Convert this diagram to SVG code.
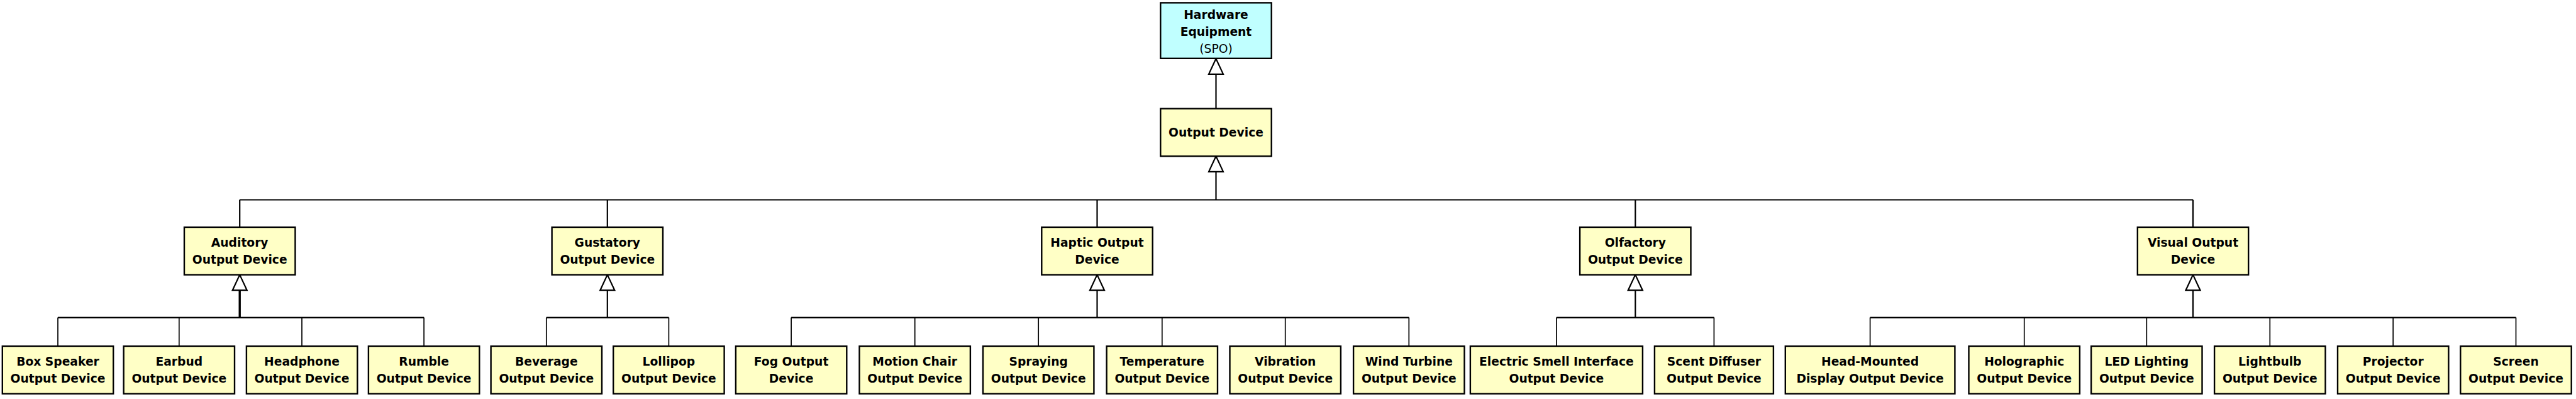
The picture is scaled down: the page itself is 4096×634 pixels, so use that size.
<svg xmlns="http://www.w3.org/2000/svg" xmlns:xlink="http://www.w3.org/1999/xlink" width="4096" height="634" viewBox="0 0 4096 634">
<style>
.box{fill:#FFFFC6;stroke:#000;stroke-width:2.4}
.spo{fill:#C0FFFF;stroke:#000;stroke-width:2.4}
.t{font-family:"DejaVu Sans",Verdana,sans-serif;font-weight:bold;font-size:18.7px;fill:#000;text-anchor:middle}
.n{font-weight:normal}
.ln{fill:none;stroke:#000;stroke-width:2.2}
.dr{fill:none;stroke:#000;stroke-width:1.7}
.tri{fill:#fff;stroke:#000;stroke-width:2.2;stroke-linejoin:miter}
</style>
<defs>
<path id="tri" class="tri" d="M0,0 L11.5,24.6 L-11.5,24.6 Z"/>
</defs>
<rect width="4096" height="634" fill="#fff"/>
<g id="connectors">
<line class="ln" x1="1933.5" y1="118.6" x2="1933.5" y2="172.6"/>
<use xlink:href="#tri" x="1933.5" y="93.2"/>
<line class="ln" x1="1933.5" y1="272.8" x2="1933.5" y2="317.5"/>
<line class="ln" x1="381.2" y1="317.5" x2="3487" y2="317.5"/>
<path class="ln" d="M381.2,317.5V361M965.8,317.5V361M1744.5,317.5V361M2600.3,317.5V361M3487,317.5V361"/>
<use xlink:href="#tri" x="1933.5" y="248.2"/>
<line class="ln" x1="381.2" y1="461.2" x2="381.2" y2="504.6" style="stroke-width:3.4"/>
<line class="ln" x1="965.8" y1="461.2" x2="965.8" y2="504.6"/>
<line class="ln" x1="1744.5" y1="461.2" x2="1744.5" y2="504.6"/>
<line class="ln" x1="2600.3" y1="461.2" x2="2600.3" y2="504.6"/>
<line class="ln" x1="3487" y1="461.2" x2="3487" y2="504.6"/>
<use xlink:href="#tri" x="381.2" y="436.6"/>
<use xlink:href="#tri" x="965.8" y="436.6"/>
<use xlink:href="#tri" x="1744.5" y="436.6"/>
<use xlink:href="#tri" x="2600.3" y="436.6"/>
<use xlink:href="#tri" x="3487" y="436.6"/>
<line class="ln" x1="92" y1="504.6" x2="674.1" y2="504.6"/>
<line class="ln" x1="868.8" y1="504.6" x2="1063.4" y2="504.6"/>
<line class="ln" x1="1258.1" y1="504.6" x2="2240.3" y2="504.6"/>
<line class="ln" x1="2474.9" y1="504.6" x2="2725.4" y2="504.6"/>
<line class="ln" x1="2973.6" y1="504.6" x2="4000.5" y2="504.6"/>
<path class="dr" d="M92,504.6V550M284.8,504.6V550M480,504.6V550M674.1,504.6V550M868.8,504.6V550M1063.4,504.6V550M1258.1,504.6V550M1454.7,504.6V550M1651.2,504.6V550M1847.8,504.6V550M2043.7,504.6V550M2240.3,504.6V550M2474.9,504.6V550M2725.4,504.6V550M2973.6,504.6V550M3218.7,504.6V550M3413.3,504.6V550M3609.3,504.6V550M3805.2,504.6V550M4000.5,504.6V550"/>
</g>
<g id="hardware-equipment"><rect class="spo" x="1845.3" y="4.4" width="176.4" height="88.4"/>
<text class="t" x="1933.5" y="29.8">Hardware</text><text class="t" x="1933.5" y="56.8">Equipment</text><text class="t n" x="1933.5" y="83.6">(SPO)</text></g>
<g id="output-device"><rect class="box" x="1845.3" y="172.6" width="176.4" height="75.6"/>
<text class="t" x="1933.5" y="217.2">Output Device</text></g>
<g id="auditory"><rect class="box" x="293" y="361" width="176.4" height="75.6"/>
<text class="t" x="381.2" y="392.4">Auditory</text><text class="t" x="381.2" y="418.9">Output Device</text></g>
<g id="gustatory"><rect class="box" x="877.6" y="361" width="176.4" height="75.6"/>
<text class="t" x="965.8" y="392.4">Gustatory</text><text class="t" x="965.8" y="418.9">Output Device</text></g>
<g id="haptic"><rect class="box" x="1656.3" y="361" width="176.4" height="75.6"/>
<text class="t" x="1744.5" y="392.4">Haptic Output</text><text class="t" x="1744.5" y="418.9">Device</text></g>
<g id="olfactory"><rect class="box" x="2512.1" y="361" width="176.4" height="75.6"/>
<text class="t" x="2600.3" y="392.4">Olfactory</text><text class="t" x="2600.3" y="418.9">Output Device</text></g>
<g id="visual"><rect class="box" x="3398.8" y="361" width="176.4" height="75.6"/>
<text class="t" x="3487" y="392.4">Visual Output</text><text class="t" x="3487" y="418.9">Device</text></g>
<g id="box-speaker"><rect class="box" x="3.8" y="550" width="176.4" height="75.6"/>
<text class="t" x="92" y="581.3">Box Speaker</text><text class="t" x="92" y="607.8">Output Device</text></g>
<g id="earbud"><rect class="box" x="196.6" y="550" width="176.4" height="75.6"/>
<text class="t" x="284.8" y="581.3">Earbud</text><text class="t" x="284.8" y="607.8">Output Device</text></g>
<g id="headphone"><rect class="box" x="391.9" y="550" width="176.4" height="75.6"/>
<text class="t" x="480" y="581.3">Headphone</text><text class="t" x="480" y="607.8">Output Device</text></g>
<g id="rumble"><rect class="box" x="585.9" y="550" width="176.4" height="75.6"/>
<text class="t" x="674.1" y="581.3">Rumble</text><text class="t" x="674.1" y="607.8">Output Device</text></g>
<g id="beverage"><rect class="box" x="780.6" y="550" width="176.4" height="75.6"/>
<text class="t" x="868.8" y="581.3">Beverage</text><text class="t" x="868.8" y="607.8">Output Device</text></g>
<g id="lollipop"><rect class="box" x="975.2" y="550" width="176.4" height="75.6"/>
<text class="t" x="1063.4" y="581.3">Lollipop</text><text class="t" x="1063.4" y="607.8">Output Device</text></g>
<g id="fog"><rect class="box" x="1169.9" y="550" width="176.4" height="75.6"/>
<text class="t" x="1258.1" y="581.3">Fog Output</text><text class="t" x="1258.1" y="607.8">Device</text></g>
<g id="motion-chair"><rect class="box" x="1366.5" y="550" width="176.4" height="75.6"/>
<text class="t" x="1454.7" y="581.3">Motion Chair</text><text class="t" x="1454.7" y="607.8">Output Device</text></g>
<g id="spraying"><rect class="box" x="1563" y="550" width="176.4" height="75.6"/>
<text class="t" x="1651.2" y="581.3">Spraying</text><text class="t" x="1651.2" y="607.8">Output Device</text></g>
<g id="temperature"><rect class="box" x="1759.6" y="550" width="176.4" height="75.6"/>
<text class="t" x="1847.8" y="581.3">Temperature</text><text class="t" x="1847.8" y="607.8">Output Device</text></g>
<g id="vibration"><rect class="box" x="1955.5" y="550" width="176.4" height="75.6"/>
<text class="t" x="2043.7" y="581.3">Vibration</text><text class="t" x="2043.7" y="607.8">Output Device</text></g>
<g id="wind-turbine"><rect class="box" x="2152.1" y="550" width="176.4" height="75.6"/>
<text class="t" x="2240.3" y="581.3">Wind Turbine</text><text class="t" x="2240.3" y="607.8">Output Device</text></g>
<g id="electric-smell"><rect class="box" x="2337.9" y="550" width="274" height="75.6"/>
<text class="t" x="2474.9" y="581.3">Electric Smell Interface</text><text class="t" x="2474.9" y="607.8">Output Device</text></g>
<g id="scent-diffuser"><rect class="box" x="2630.9" y="550" width="189" height="75.6"/>
<text class="t" x="2725.4" y="581.3">Scent Diffuser</text><text class="t" x="2725.4" y="607.8">Output Device</text></g>
<g id="head-mounted"><rect class="box" x="2838.8" y="550" width="269.6" height="75.6"/>
<text class="t" x="2973.6" y="581.3">Head-Mounted</text><text class="t" x="2973.6" y="607.8">Display Output Device</text></g>
<g id="holographic"><rect class="box" x="3130.5" y="550" width="176.4" height="75.6"/>
<text class="t" x="3218.7" y="581.3">Holographic</text><text class="t" x="3218.7" y="607.8">Output Device</text></g>
<g id="led-lighting"><rect class="box" x="3325.1" y="550" width="176.4" height="75.6"/>
<text class="t" x="3413.3" y="581.3">LED Lighting</text><text class="t" x="3413.3" y="607.8">Output Device</text></g>
<g id="lightbulb"><rect class="box" x="3521.1" y="550" width="176.4" height="75.6"/>
<text class="t" x="3609.3" y="581.3">Lightbulb</text><text class="t" x="3609.3" y="607.8">Output Device</text></g>
<g id="projector"><rect class="box" x="3717" y="550" width="176.4" height="75.6"/>
<text class="t" x="3805.2" y="581.3">Projector</text><text class="t" x="3805.2" y="607.8">Output Device</text></g>
<g id="screen"><rect class="box" x="3912.3" y="550" width="176.4" height="75.6"/>
<text class="t" x="4000.5" y="581.3">Screen</text><text class="t" x="4000.5" y="607.8">Output Device</text></g>
</svg>
